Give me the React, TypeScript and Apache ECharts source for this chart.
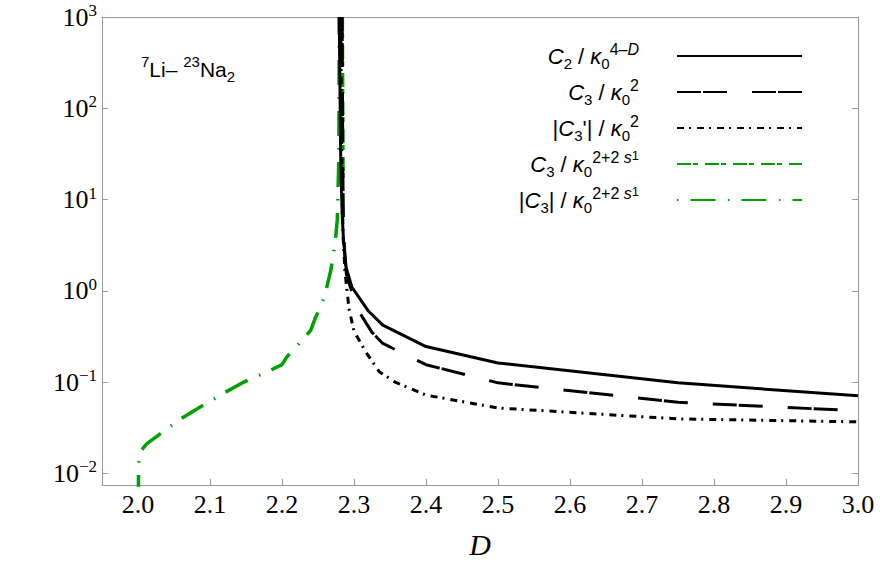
import React, { useEffect, useRef } from 'react';
import * as echarts from 'echarts';

// ---- data ----
const xMin = 1.95;
const xMax = 3.0;
const yMin = Math.pow(10, -2.128);
const yMax = 1000;

const seriesNames = ['C2', 'C3', 'C3p', 'C3s', 'C3abs'];

// C2 / kappa0^(4-D)  (solid black)
const c2D = [2.2795, 2.2815, 2.2835, 2.2855, 2.289, 2.297, 2.31, 2.32, 2.34, 2.4, 2.5, 2.75, 3.0];
const c2V = [1000, 30, 7, 3.5, 1.8, 1.1, 0.78, 0.6, 0.42, 0.245, 0.162, 0.098, 0.0706];

// C3 / kappa0^2  (dashed black)
const c3D = [2.2835, 2.2845, 2.2855, 2.2875, 2.2895, 2.296, 2.307, 2.325, 2.34, 2.4, 2.5, 2.75, 3.0];
const c3V = [1000, 20, 5, 2.3, 1.5, 1.04, 0.59, 0.35, 0.265, 0.155, 0.098, 0.06, 0.0484];

// |C3'| / kappa0^2  (dash-dot black)
const c3pD = [2.2815, 2.283, 2.2848, 2.2875, 2.293, 2.3, 2.317, 2.335, 2.357, 2.4, 2.5, 2.75, 3.0];
const c3pV = [1000, 30, 4, 1.6, 0.64, 0.36, 0.21, 0.13, 0.1, 0.072, 0.052, 0.0395, 0.0366];

// C3 / kappa0^(2+2 s1)  (green dashed)
const c3sD = [2.2838, 2.2848];
const c3sV = [1000, 17];

// |C3| / kappa0^(2+2 s1)  (green dash-dot)
const c3aD = [2.0, 2.0008, 2.004, 2.012, 2.029, 2.058, 2.0875, 2.117, 2.147, 2.175, 2.2, 2.207, 2.225, 2.24, 2.247, 2.255, 2.261, 2.268, 2.274, 2.2768, 2.279, 2.2795];
const c3aV = [0.001, 0.013, 0.0176, 0.021, 0.0264, 0.039, 0.054, 0.074, 0.1, 0.125, 0.155, 0.19, 0.27, 0.37, 0.52, 0.7, 1.0, 1.7, 3.5, 6, 30, 1000];

const zip = (xs: number[], ys: number[]) => xs.map((x, i) => [x, ys[i]]);

const GREEN = '#00a000';
const FRAME = '#9a9a9a';
const SANS = 'Liberation Sans';
const SERIF = 'Liberation Serif';

const legendLabels: Record<string, string> = {
  C2: '{i|C}{sub|2}{n| / }{i|κ}{sub|0}{sup|4–}{supi|D}{g| }',
  C3: '{i|C}{sub|3}{n| / }{i|κ}{sub|0}{sup|2}{g| }',
  C3p: "{n||}{i|C}{sub|3}{n|'|}{n| / }{i|κ}{sub|0}{sup|2}{g| }",
  C3s: '{i|C}{sub|3}{n| / }{i|κ}{sub|0}{sup|2+2 }{supi|s}{ssub|1}{g| }',
  C3abs: '{n||}{i|C}{sub|3}{n||}{n| / }{i|κ}{sub|0}{sup|2+2 }{supi|s}{ssub|1}{g| }',
};

export default function App() {
  const ref = useRef<HTMLDivElement>(null);
  useEffect(() => {
    if (!ref.current) return;
    const chart = echarts.init(ref.current, undefined, { renderer: 'svg' });

    const legendRich = {
      i: { fontFamily: SANS, fontSize: 22, fontStyle: 'italic', lineHeight: 30, color: '#000' },
      n: { fontFamily: SANS, fontSize: 22, lineHeight: 30, color: '#000' },
      sub: { fontFamily: SANS, fontSize: 15, lineHeight: 20, verticalAlign: 'bottom', color: '#000' },
      sup: { fontFamily: SANS, fontSize: 16, lineHeight: 12, verticalAlign: 'top', color: '#000' },
      supi: { fontFamily: SANS, fontSize: 16, fontStyle: 'italic', lineHeight: 12, verticalAlign: 'top', color: '#000' },
      ssub: { fontFamily: SANS, fontSize: 13, lineHeight: 22, verticalAlign: 'top', color: '#000' },
      g: { fontFamily: SANS, fontSize: 10, width: 33, lineHeight: 30 },
    };

    const yFormatter = (v: number) => {
      const l = Math.log10(v);
      const e = Math.round(l);
      if (Math.abs(l - e) > 1e-6) return '';
      const es = e < 0 ? '−' + -e : String(e);
      return '{b|10}{e|' + es + '}';
    };

    const lineSeries = (name: string, data: number[][], color: string, width: number, type: any) => ({
      name,
      type: 'line',
      data,
      symbol: 'none',
      showSymbol: false,
      clip: true,
      lineStyle: { color, width, type, cap: 'butt', join: 'round' },
      itemStyle: { color },
      emphasis: { disabled: true },
    });

    chart.setOption({
      animation: false,
      backgroundColor: '#fff',
      grid: { left: 102, right: 22, top: 17, bottom: 83, containLabel: false },
      xAxis: [
        {
          type: 'value',
          min: xMin,
          max: xMax,
          splitNumber: 10,
          position: 'bottom',
          axisLine: { show: true, lineStyle: { color: FRAME, width: 1 } },
          axisTick: { show: true, inside: true, length: 6, lineStyle: { color: FRAME } },
          splitLine: { show: false },
          axisLabel: {
            showMinLabel: false,
            margin: 6,
            fontFamily: SERIF,
            fontSize: 26,
            color: '#000',
            formatter: (v: number) => (Math.abs(v * 10 - Math.round(v * 10)) > 1e-6 ? '' : v.toFixed(1)),
          },
          name: 'D',
          nameLocation: 'middle',
          nameGap: 44,
          nameTextStyle: { fontFamily: SERIF, fontSize: 30, fontStyle: 'italic', color: '#000' },
        },
        {
          type: 'value',
          min: xMin,
          max: xMax,
          position: 'top',
          axisLine: { show: true, lineStyle: { color: FRAME, width: 1 } },
          axisTick: { show: false },
          axisLabel: { show: false },
          splitLine: { show: false },
        },
      ],
      yAxis: [
        {
          type: 'log',
          logBase: 10,
          min: yMin,
          max: yMax,
          position: 'left',
          axisLine: { show: true, lineStyle: { color: FRAME, width: 1 } },
          axisTick: { show: true, inside: true, length: 6, lineStyle: { color: FRAME } },
          splitLine: { show: false },
          axisLabel: {
            margin: 5,
            formatter: yFormatter,
            rich: {
              b: { fontFamily: SERIF, fontSize: 26, lineHeight: 30, color: '#000' },
              e: { fontFamily: SERIF, fontSize: 17, lineHeight: 17, verticalAlign: 'top', color: '#000' },
            },
          },
        },
        {
          type: 'log',
          logBase: 10,
          min: yMin,
          max: yMax,
          position: 'right',
          axisLine: { show: true, lineStyle: { color: FRAME, width: 1 } },
          axisTick: { show: true, inside: true, length: 6, lineStyle: { color: FRAME } },
          axisLabel: { show: false },
          splitLine: { show: false },
        },
      ],
      legend: {
        orient: 'vertical',
        right: 77,
        top: 41,
        align: 'right',
        padding: 0,
        itemWidth: 125,
        itemHeight: 10,
        itemGap: 6,
        selectedMode: false,
        data: seriesNames,
        itemStyle: { opacity: 0, borderWidth: 0, color: 'rgba(0,0,0,0)' },
        formatter: (name: string) => legendLabels[name],
        textStyle: { fontFamily: SANS, fontSize: 22, color: '#000', rich: legendRich },
      },
      graphic: [
        {
          type: 'text',
          left: 141,
          top: 54,
          style: {
            text: '{sup|7}{m|Li– }{sup|23}{m|Na}{sub|2}',
            fontFamily: SANS,
            fontSize: 21,
            fill: '#000',
            rich: {
              m: { fontFamily: SANS, fontSize: 21, lineHeight: 30, fill: '#000' },
              sup: { fontFamily: SANS, fontSize: 15, lineHeight: 12, verticalAlign: 'top', fill: '#000' },
              sub: { fontFamily: SANS, fontSize: 15, lineHeight: 20, verticalAlign: 'bottom', fill: '#000' },
            },
          },
        },
      ],
      series: [
        lineSeries('C3abs', zip(c3aD, c3aV), GREEN, 3.5, [1.5, 12, 25, 12.5]),
        lineSeries('C3s', zip(c3sD, c3sV), GREEN, 3.5, [14, 2, 5, 7]),
        lineSeries('C2', zip(c2D, c2V), '#000', 3, 'solid'),
        lineSeries('C3', zip(c3D, c3V), '#000', 3, [24, 2, 24, 25]),
        lineSeries('C3p', zip(c3pD, c3pV), '#000', 3, [7, 5, 2, 6]),
      ],
    });
    return () => chart.dispose();
  }, []);
  return <div ref={ref} style={{ position: 'fixed', left: 0, top: 0, width: 880, height: 568 }} />;
}
